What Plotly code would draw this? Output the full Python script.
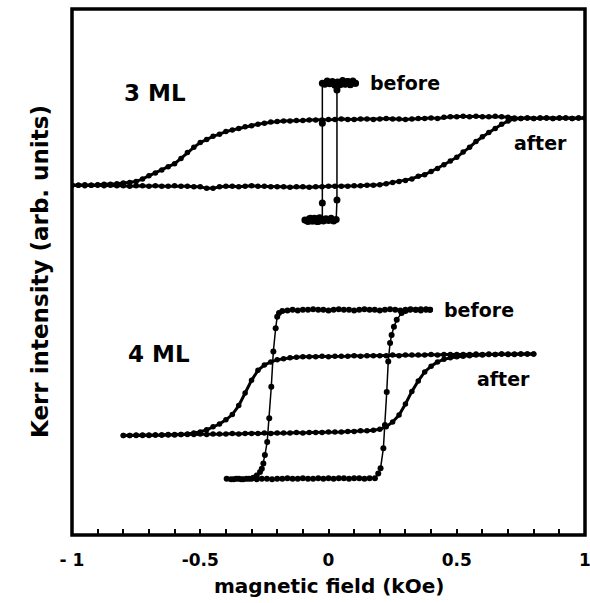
import plotly.graph_objects as go

# ---------------- data (field in kOe, Kerr intensity in arb. units 0-100) -------------
FIELD_3ML_AFTER = [
    -1.000, -0.975, -0.950, -0.925, -0.900, -0.875, -0.850, -0.825, -0.800, -0.775,
    -0.750, -0.725, -0.700, -0.675, -0.650, -0.625, -0.600, -0.575, -0.550, -0.525,
    -0.500, -0.475, -0.450, -0.425, -0.400, -0.375, -0.350, -0.325, -0.300, -0.275,
    -0.250, -0.225, -0.200, -0.175, -0.150, -0.125, -0.100, -0.075, -0.050, -0.025,
    0.000, 0.025, 0.050, 0.075, 0.100, 0.125, 0.150, 0.175, 0.200, 0.225,
    0.250, 0.275, 0.300, 0.325, 0.350, 0.375, 0.400, 0.425, 0.450, 0.475,
    0.500, 0.525, 0.550, 0.575, 0.600, 0.625, 0.650, 0.675, 0.700, 0.725,
    0.750, 0.775, 0.800, 0.825, 0.850, 0.875, 0.900, 0.925, 0.950, 0.975, 1.000,
]
# branch swept from +H to -H (upper)
KERR_3ML_AFTER_DOWN = [
    66.5, 66.5, 66.6, 66.5, 66.6, 66.7, 66.7, 66.8, 66.9, 67.0,
    67.2, 67.7, 68.3, 68.8, 69.4, 70.0, 70.6, 71.6, 72.7, 73.7,
    74.6, 75.2, 75.8, 76.2, 76.7, 77.0, 77.3, 77.6, 77.8, 78.1,
    78.3, 78.5, 78.6, 78.7, 78.7, 78.8, 78.8, 78.9, 78.9, 78.9,
    79.0, 79.0, 79.1, 79.0, 79.0, 79.1, 79.1, 79.0, 79.1, 79.2,
    79.1, 79.1, 79.0, 79.1, 79.2, 79.2, 79.3, 79.2, 79.4, 79.5,
    79.5, 79.6, 79.5, 79.6, 79.5, 79.5, 79.6, 79.5, 79.4, 79.3,
    79.2, 79.3, 79.2, 79.3, 79.3, 79.2, 79.3, 79.3, 79.2, 79.3, 79.3,
]
# branch swept from -H to +H (lower)
KERR_3ML_AFTER_UP = [
    66.5, 66.5, 66.4, 66.5, 66.5, 66.4, 66.5, 66.4, 66.4, 66.3,
    66.4, 66.4, 66.3, 66.4, 66.3, 66.3, 66.4, 66.3, 66.3, 66.2,
    66.2, 65.9, 65.9, 66.2, 66.3, 66.3, 66.2, 66.3, 66.4, 66.3,
    66.3, 66.2, 66.2, 66.2, 66.1, 66.2, 66.2, 66.1, 66.2, 66.2,
    66.3, 66.3, 66.3, 66.3, 66.4, 66.4, 66.5, 66.5, 66.6, 66.8,
    67.0, 67.2, 67.4, 67.7, 68.2, 68.5, 69.1, 69.7, 70.4, 71.1,
    71.8, 72.8, 73.7, 74.8, 75.7, 76.5, 77.3, 78.1, 78.7, 79.1,
    79.2, 79.3, 79.2, 79.3, 79.3, 79.2, 79.3, 79.3, 79.2, 79.3, 79.3,
]

FIELD_3ML_BEFORE = [
    0.105, 0.095, 0.085, 0.075, 0.065, 0.055, 0.045, 0.035, 0.025, 0.015,
    0.005, -0.005, -0.015, -0.024, -0.024, -0.024, -0.024, -0.035, -0.045, -0.055,
    -0.065, -0.075, -0.085, -0.092,
    -0.080, -0.070, -0.060, -0.050, -0.040, -0.030, -0.020, -0.010, 0.000, 0.010,
    0.020, 0.030, 0.033, 0.033, 0.035, 0.045, 0.055, 0.065, 0.075, 0.085, 0.095, 0.105,
]
KERR_3ML_BEFORE = [
    85.9, 86.3, 85.6, 86.2, 85.7, 86.4, 85.8, 86.1, 85.5, 86.2,
    85.8, 86.3, 85.7, 85.9, 78.3, 63.1, 59.9, 60.3, 59.6, 60.2,
    59.7, 60.1, 59.8, 59.9,
    59.6, 60.2, 59.7, 60.1, 59.6, 60.2, 59.7, 60.1, 59.8, 60.2,
    59.7, 60.0, 63.7, 84.6, 86.0, 85.6, 86.3, 85.8, 86.2, 85.7, 86.1, 85.9,
]

FIELD_4ML_AFTER = [
    -0.800, -0.775, -0.750, -0.725, -0.700, -0.675, -0.650, -0.625, -0.600, -0.575,
    -0.550, -0.525, -0.500, -0.475, -0.450, -0.425, -0.400, -0.375, -0.350, -0.325,
    -0.300, -0.275, -0.250, -0.225, -0.200, -0.175, -0.150, -0.125, -0.100, -0.075,
    -0.050, -0.025, 0.000, 0.025, 0.050, 0.075, 0.100, 0.125, 0.150, 0.175,
    0.200, 0.225, 0.250, 0.275, 0.300, 0.325, 0.350, 0.375, 0.400, 0.425,
    0.450, 0.475, 0.500, 0.525, 0.550, 0.575, 0.600, 0.625, 0.650, 0.675,
    0.700, 0.725, 0.750, 0.775, 0.800,
]
KERR_4ML_AFTER_DOWN = [
    18.9, 18.9, 18.9, 19.0, 18.9, 19.0, 19.0, 19.0, 19.1, 19.1,
    19.2, 19.4, 19.6, 20.0, 20.6, 21.1, 21.9, 22.9, 24.6, 27.0,
    29.4, 31.3, 32.3, 32.9, 33.3, 33.5, 33.7, 33.8, 33.9, 33.9,
    33.9, 34.0, 33.9, 34.0, 34.0, 34.0, 34.1, 34.0, 34.1, 34.1,
    34.1, 34.1, 34.2, 34.1, 34.2, 34.2, 34.2, 34.2, 34.3, 34.2,
    34.3, 34.3, 34.3, 34.3, 34.3, 34.4, 34.3, 34.4, 34.3, 34.4,
    34.4, 34.3, 34.4, 34.4, 34.4,
]
KERR_4ML_AFTER_UP = [
    18.9, 18.9, 19.0, 18.9, 19.0, 19.0, 19.0, 19.1, 19.0, 19.1,
    19.1, 19.1, 19.2, 19.1, 19.2, 19.2, 19.2, 19.3, 19.2, 19.3,
    19.3, 19.3, 19.4, 19.3, 19.4, 19.4, 19.4, 19.5, 19.4, 19.5,
    19.5, 19.5, 19.6, 19.6, 19.6, 19.7, 19.7, 19.8, 19.8, 19.9,
    20.1, 20.6, 21.5, 22.8, 24.9, 27.3, 29.3, 31.0, 32.1, 32.9,
    33.4, 33.7, 33.9, 34.0, 34.1, 34.2, 34.2, 34.3, 34.3, 34.4,
    34.3, 34.4, 34.4, 34.4, 34.4,
]

FIELD_4ML_BEFORE = [
    0.396, 0.380, 0.360, 0.340, 0.320, 0.300, 0.280, 0.260, 0.240, 0.220,
    0.200, 0.180, 0.160, 0.140, 0.120, 0.100, 0.080, 0.060, 0.040, 0.020,
    0.000, -0.020, -0.040, -0.060, -0.080, -0.100, -0.120, -0.140, -0.160, -0.180,
    -0.193, -0.200, -0.206, -0.215, -0.223, -0.231, -0.239, -0.248, -0.254, -0.260,
    -0.267, -0.280, -0.293, -0.310, -0.332, -0.350, -0.370, -0.397,
    -0.380, -0.360, -0.340, -0.320, -0.300, -0.280, -0.260, -0.240, -0.220, -0.200,
    -0.180, -0.160, -0.140, -0.120, -0.100, -0.080, -0.060, -0.040, -0.020, 0.000,
    0.020, 0.040, 0.060, 0.080, 0.100, 0.120, 0.140, 0.160, 0.181, 0.194,
    0.203, 0.214, 0.220, 0.227, 0.233, 0.240, 0.246, 0.255, 0.266, 0.285,
    0.300, 0.318, 0.340, 0.360, 0.380, 0.396,
]
KERR_4ML_BEFORE = [
    42.8, 42.9, 42.7, 42.8, 42.9, 42.8, 42.7, 42.8, 42.9, 42.8,
    42.7, 42.8, 42.8, 42.9, 42.8, 42.7, 42.8, 42.8, 42.9, 42.8,
    42.7, 42.8, 42.8, 42.9, 42.8, 42.8, 42.7, 42.8, 42.7, 42.6,
    42.2, 41.5, 39.3, 34.9, 28.2, 22.2, 17.7, 15.2, 13.6, 12.6,
    12.0, 11.3, 10.9, 10.7, 10.6, 10.7, 10.6, 10.7,
    10.6, 10.7, 10.6, 10.7, 10.7, 10.6, 10.7, 10.7, 10.6, 10.7,
    10.7, 10.8, 10.7, 10.7, 10.8, 10.7, 10.7, 10.8, 10.7, 10.8,
    10.7, 10.8, 10.8, 10.7, 10.8, 10.8, 10.7, 10.8, 10.8, 11.7,
    12.7, 16.5, 20.9, 27.2, 33.0, 36.5, 38.0, 39.6, 40.9, 42.2,
    42.6, 42.8, 42.8, 42.9, 42.8, 42.8,
]

XTICK_VALS = [-1, -0.5, 0, 0.5, 1]
XTICK_TEXT = ["- 1", "-0.5", "0", "0.5", "1"]
X_TITLE = "magnetic field (kOe)"
Y_TITLE = "Kerr intensity (arb. units)"

for xs, ys in [(FIELD_3ML_AFTER, KERR_3ML_AFTER_DOWN), (FIELD_3ML_AFTER, KERR_3ML_AFTER_UP),
               (FIELD_3ML_BEFORE, KERR_3ML_BEFORE), (FIELD_4ML_AFTER, KERR_4ML_AFTER_DOWN),
               (FIELD_4ML_AFTER, KERR_4ML_AFTER_UP), (FIELD_4ML_BEFORE, KERR_4ML_BEFORE)]:
    assert len(xs) == len(ys), (len(xs), len(ys))

FONT = "DejaVu Sans"

fig = go.Figure()


def add_curve(xs, ys, name, msize, lwidth):
    fig.add_trace(go.Scatter(
        x=xs, y=ys, name=name, mode="lines+markers",
        line=dict(color="black", width=lwidth),
        marker=dict(color="black", size=msize),
        showlegend=False, hoverinfo="skip",
    ))


add_curve(FIELD_3ML_AFTER, KERR_3ML_AFTER_DOWN, "3 ML after (down)", 5.5, 3)
add_curve(FIELD_3ML_AFTER, KERR_3ML_AFTER_UP, "3 ML after (up)", 5.5, 3)
add_curve(FIELD_3ML_BEFORE, KERR_3ML_BEFORE, "3 ML before", 7, 1.5)
add_curve(FIELD_4ML_AFTER, KERR_4ML_AFTER_DOWN, "4 ML after (down)", 5.5, 3)
add_curve(FIELD_4ML_AFTER, KERR_4ML_AFTER_UP, "4 ML after (up)", 5.5, 3)
add_curve(FIELD_4ML_BEFORE, KERR_4ML_BEFORE, "4 ML before", 6, 1.5)

labels = [
    ("3 ML", -0.678, 84.1, 23),
    ("before", 0.298, 86.0, 19),
    ("after", 0.828, 74.6, 19),
    ("4 ML", -0.661, 34.4, 23),
    ("before", 0.587, 42.7, 19),
    ("after", 0.684, 29.6, 19),
]
for text, x, y, size in labels:
    fig.add_annotation(x=x, y=y, text=f"<b>{text}</b>", showarrow=False,
                       xanchor="center", yanchor="middle",
                       font=dict(family=FONT, size=size, color="black"))

fig.add_annotation(xref="paper", yref="paper", x=0.5, y=0, yshift=-51,
                   text=f"<b>{X_TITLE}</b>", showarrow=False,
                   xanchor="center", yanchor="middle",
                   font=dict(family=FONT, size=20, color="black"))
fig.add_annotation(xref="paper", yref="paper", x=0, y=0.5, xshift=-32,
                   text=f"<b>{Y_TITLE}</b>", showarrow=False, textangle=-90,
                   xanchor="center", yanchor="middle",
                   font=dict(family=FONT, size=23, color="black"))

fig.add_shape(type="rect", xref="paper", yref="paper", x0=0, x1=1, y0=0, y1=1,
              line=dict(color="black", width=3.5), layer="above")

fig.update_layout(
    width=590, height=603,
    margin=dict(l=72, r=5, t=9, b=68, autoexpand=False),
    paper_bgcolor="white", plot_bgcolor="white",
    font=dict(family=FONT, color="black"),
    xaxis=dict(
        range=[-1, 1], showgrid=False, zeroline=False, showline=False,
        automargin=False,
        tickmode="array", tickvals=XTICK_VALS, ticktext=XTICK_TEXT,
        ticks="inside", ticklen=6, tickwidth=2, tickcolor="black",
        tickfont=dict(family=FONT, size=17, color="black", weight="bold"),
        ticklabelstandoff=13, ticklabeloverflow="allow",
        minor=dict(dtick=0.1, ticks="inside", ticklen=6, tickwidth=2, tickcolor="black"),
    ),
    yaxis=dict(
        range=[0, 100], showgrid=False, zeroline=False, showline=False,
        automargin=False, showticklabels=False, ticks="",
    ),
)

fig.write_html("out.html")
